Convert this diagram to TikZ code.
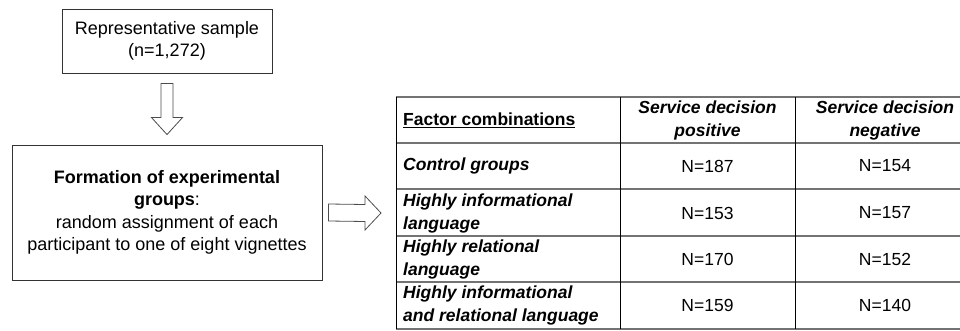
\documentclass[tikz,border=0pt]{standalone}
\usepackage{fontspec}
\setmainfont{Liberation Sans}
\usetikzlibrary{calc}

\begin{document}
\begin{tikzpicture}
[x=1pt,y=-1pt,
  boxdecorate/.style={shape=rectangle,draw=black!80,line width=0.9pt,
    align=center,inner sep=0pt,font=\fontsize{18}{22.5}\selectfont},
  arrowdecorate/.style={draw=black!70,line width=0.8pt,fill=white},
  rowline/.style={draw=black!55,line width=1.7pt},
  colline/.style={draw=black,line width=1pt},
  celltext/.style={inner sep=0pt,font=\fontsize{17.5}{23}\selectfont}]
\useasboundingbox (0,0) rectangle (960,331);
%% boxes of the flow
\node (sample) at (167,41) [boxdecorate,minimum width=210pt,minimum height=64pt]
  {Representative sample\\(n=1,272)};
\node (design) at (167,212.5) [boxdecorate,minimum width=310pt,minimum height=135pt]
  {\textbf{Formation of experimental}\\\textbf{groups}:\\random assignment of each\\participant to one of eight vignettes};
\coordinate (table) at (396,213);
%% block arrows
\coordinate (d0) at ($(sample.south)+(0,10)$);
\coordinate (d1) at ($(design.north)+(0,-10)$);
\draw[arrowdecorate] ($(d0)+(-6,0)$) -- ($(d1)+(-6,-17)$) -- ($(d1)+(-15.5,-17)$)
  -- (d1) -- ($(d1)+(15.5,-17)$) -- ($(d1)+(6,-17)$) -- ($(d0)+(6,0)$) -- cycle;
\coordinate (r0) at ($(design.east)+(6,0)$);
\coordinate (r1) at ($(table)+(-15,0)$);
\draw[arrowdecorate] ($(r0)+(0,-8.5)$) -- ($(r1)+(-16,-8.5)$) -- ($(r1)+(-16,-17)$)
  -- (r1) -- ($(r1)+(-16,17)$) -- ($(r1)+(-16,8.5)$) -- ($(r0)+(0,8.5)$) -- cycle;
%% table rules
\foreach \y in {97,143,189,236,282,329}
  \draw[rowline] (396,\y) -- (960,\y);
\foreach \x in {396,620,795}
  \draw[colline] (\x,97) -- (\x,329);
%% table header
\node (head1) at (403,120) [celltext,anchor=west] {\textbf{\underline{Factor combinations}}};
\node (head2) at (707.5,120.5) [celltext,align=center]
  {\textbf{\textit{Service decision}}\\\textbf{\textit{positive}}};
\node (head3) at (885,120.5) [celltext,align=center]
  {\textbf{\textit{Service decision}}\\\textbf{\textit{negative}}};
%% table rows
\foreach \rowname/\y/\factor/\pos/\neg in {control/166/{Control groups}/187/154,
  info/213/{Highly informational\\language}/153/157,
  rel/259/{Highly relational\\language}/170/152,
  both/305.5/{Highly informational\\and relational language}/159/140}
{
  \node (\rowname) at (403,\y) [celltext,anchor=west,align=left,font=\fontsize{17.5}{23}\selectfont\bfseries\itshape] {\factor};
  \node (\rowname pos) at (707.5,\y) [celltext] {N=\pos};
  \node (\rowname neg) at (885,\y) [celltext] {N=\neg};
}
\end{tikzpicture}
\end{document}
